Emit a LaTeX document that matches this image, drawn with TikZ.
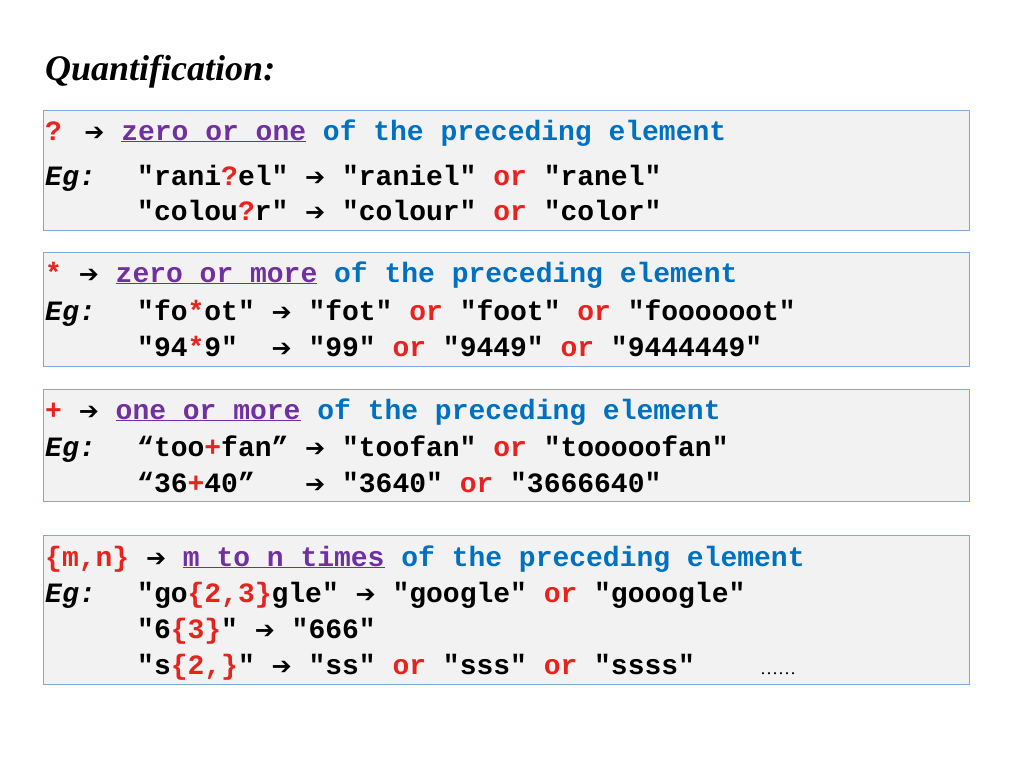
\documentclass[tikz,border=0pt]{standalone}
\usepackage{fontspec}
\setmainfont{Liberation Serif}
\newfontfamily\monofont{Liberation Mono}
\newfontfamily\arrowfont{DejaVu Sans}
\definecolor{qblue}{HTML}{0070C0}
\definecolor{qpurple}{HTML}{7030A0}
\definecolor{qred}{HTML}{E8221E}
\definecolor{qedge}{HTML}{7FA9D8}
\definecolor{qfill}{HTML}{F2F2F2}
\newcommand\ar{{\arrowfont\bfseries\fontsize{24}{26}\selectfont ➔}}
\newcommand\rd[1]{\textcolor{qred}{#1}}
\newcommand\orr{\rd{or}}
\newcommand\ul[1]{\textcolor{qpurple}{\underline{#1}}}
\newcommand\rest{\textcolor{qblue}{of the preceding element}}

\begin{document}
\begin{tikzpicture}[x=1pt,y=-1pt,
    box/.style={draw=qedge,fill=qfill,line width=0.8pt},
    txt/.style={anchor=base west,inner sep=0pt,font=\monofont\bfseries\fontsize{28}{30}\selectfont}]
  \useasboundingbox (0,0) rectangle (1024,768);

  \node[anchor=base west,inner sep=0pt,font=\bfseries\itshape\fontsize{36}{40}\selectfont] (title) at (45,80) {Quantification:};

  % optional
  \draw[box] (43,110) rectangle (969,230);
  \node[txt] (q1) at (45,140) {\rd{?} \ar{} \ul{zero or one} \rest};
  \node[txt] (q1e) at (45,185) {\itshape Eg:};
  \node[txt] (q1a) at (137,185) {"rani\rd{?}el" \ar{} "raniel" \orr{} "ranel"};
  \node[txt] (q1b) at (137,220) {"colou\rd{?}r" \ar{} "colour" \orr{} "color"};

  % star
  \draw[box] (43,252) rectangle (969,366);
  \node[txt] (q2) at (45,282) {\rd{*} \ar{} \ul{zero or more} \rest};
  \node[txt] (q2e) at (45,320) {\itshape Eg:};
  \node[txt] (q2a) at (137,320) {"fo\rd{*}ot" \ar{} "fot" \orr{} "foot" \orr{} "foooooot"};
  \node[txt] (q2b) at (137,356) {"94\rd{*}9"~~\ar{} "99" \orr{} "9449" \orr{} "9444449"};

  % plus
  \draw[box] (43,389) rectangle (969,501);
  \node[txt] (q3) at (45,419) {\rd{+} \ar{} \ul{one or more} \rest};
  \node[txt] (q3e) at (45,456) {\itshape Eg:};
  \node[txt] (q3a) at (137,456) {“too\rd{+}fan” \ar{} "toofan" \orr{} "tooooofan"};
  \node[txt] (q3b) at (137,492) {“36\rd{+}40”~~~\ar{} "3640" \orr{} "3666640"};

  % range
  \draw[box] (43,535) rectangle (969,684);
  \node[txt] (q4) at (45,566) {\rd{\{m,n\}} \ar{} \ul{m to n times} \rest};
  \node[txt] (q4e) at (45,602) {\itshape Eg:};
  \node[txt] (q4a) at (137,602) {"go\rd{\{2,3\}}gle" \ar{} "google" \orr{} "gooogle"};
  \node[txt] (q4b) at (137,638) {"6\rd{\{3\}}" \ar{} "666"};
  \node[txt] (q4c) at (137,674) {"s\rd{\{2,\}}" \ar{} "ss" \orr{} "sss" \orr{} "ssss"};
  \node[anchor=base west,inner sep=0pt,font=\fontsize{18}{20}\selectfont] (dots) at (760,674) {……};
\end{tikzpicture}
\end{document}
